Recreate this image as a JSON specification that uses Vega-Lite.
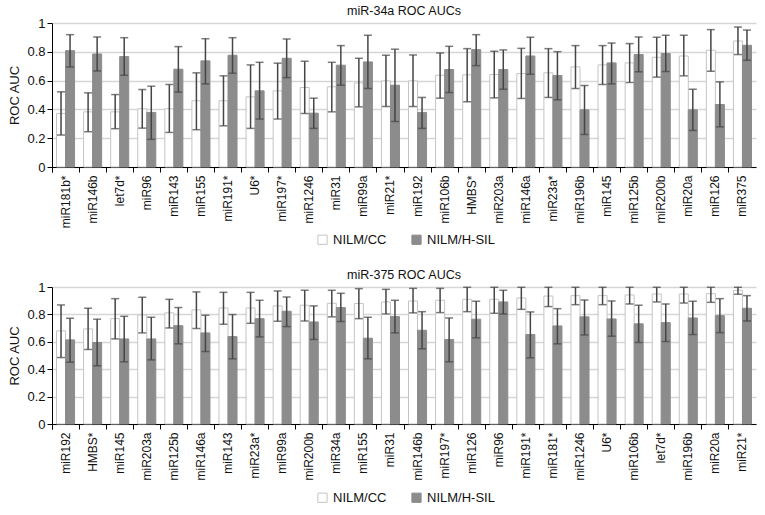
{
  "$schema": "https://vega.github.io/schema/vega-lite/v6.json",
  "padding": {"left": 8, "top": 4, "right": 5, "bottom": 5},
  "background": "white",
  "config": {
    "font": "Liberation Sans",
    "view": {"stroke": null},
    "axis": {"labelFont": "Liberation Sans", "titleFont": "Liberation Sans", "labelColor": "#111", "titleColor": "#111", "titleFontWeight": "normal", "domainColor": "#000", "tickColor": "#000"},
    "axisY": {"values": [0, 0.1, 0.2, 0.3, 0.4, 0.5, 0.6, 0.7, 0.8, 0.9, 1], "format": "~g", "labelFontSize": 13, "titleFontSize": 13, "tickSize": 5, "labelPadding": 2, "titlePadding": 5, "gridColor": "#d6d6d6", "gridWidth": 1.5, "labelOverlap": false},
    "title": {"fontSize": 12.5, "fontWeight": "normal", "color": "#111", "font": "Liberation Sans"},
    "legend": {"labelFontSize": 13, "labelColor": "#111", "symbolSize": 85, "symbolType": "square", "symbolStrokeWidth": 1, "columnPadding": 22, "labelOffset": 4, "padding": 0},
    "concat": {"spacing": 21}
  },
  "datasets": {
    "top": [
      {"g": "miR181b*", "grp": "NILM/CC", "v": 0.372, "lo": 0.222, "hi": 0.522},
      {"g": "miR181b*", "grp": "NILM/H-SIL", "v": 0.808, "lo": 0.695, "hi": 0.919},
      {"g": "miR146b", "grp": "NILM/CC", "v": 0.383, "lo": 0.245, "hi": 0.515},
      {"g": "miR146b", "grp": "NILM/H-SIL", "v": 0.785, "lo": 0.667, "hi": 0.903},
      {"g": "let7d*", "grp": "NILM/CC", "v": 0.383, "lo": 0.266, "hi": 0.503},
      {"g": "let7d*", "grp": "NILM/H-SIL", "v": 0.767, "lo": 0.637, "hi": 0.898},
      {"g": "miR96", "grp": "NILM/CC", "v": 0.404, "lo": 0.270, "hi": 0.538},
      {"g": "miR96", "grp": "NILM/H-SIL", "v": 0.379, "lo": 0.192, "hi": 0.561},
      {"g": "miR143", "grp": "NILM/CC", "v": 0.404, "lo": 0.240, "hi": 0.573},
      {"g": "miR143", "grp": "NILM/H-SIL", "v": 0.679, "lo": 0.520, "hi": 0.836},
      {"g": "miR155", "grp": "NILM/CC", "v": 0.460, "lo": 0.259, "hi": 0.654},
      {"g": "miR155", "grp": "NILM/H-SIL", "v": 0.737, "lo": 0.577, "hi": 0.891},
      {"g": "miR191*", "grp": "NILM/CC", "v": 0.460, "lo": 0.286, "hi": 0.633},
      {"g": "miR191*", "grp": "NILM/H-SIL", "v": 0.776, "lo": 0.651, "hi": 0.898},
      {"g": "U6*", "grp": "NILM/CC", "v": 0.487, "lo": 0.268, "hi": 0.709},
      {"g": "U6*", "grp": "NILM/H-SIL", "v": 0.529, "lo": 0.333, "hi": 0.727},
      {"g": "miR197*", "grp": "NILM/CC", "v": 0.529, "lo": 0.333, "hi": 0.721},
      {"g": "miR197*", "grp": "NILM/H-SIL", "v": 0.755, "lo": 0.621, "hi": 0.889},
      {"g": "miR1246", "grp": "NILM/CC", "v": 0.552, "lo": 0.372, "hi": 0.734},
      {"g": "miR1246", "grp": "NILM/H-SIL", "v": 0.374, "lo": 0.268, "hi": 0.478},
      {"g": "miR31", "grp": "NILM/CC", "v": 0.557, "lo": 0.383, "hi": 0.727},
      {"g": "miR31", "grp": "NILM/H-SIL", "v": 0.707, "lo": 0.568, "hi": 0.843},
      {"g": "miR99a", "grp": "NILM/CC", "v": 0.584, "lo": 0.418, "hi": 0.755},
      {"g": "miR99a", "grp": "NILM/H-SIL", "v": 0.730, "lo": 0.545, "hi": 0.915},
      {"g": "miR21*", "grp": "NILM/CC", "v": 0.598, "lo": 0.420, "hi": 0.776},
      {"g": "miR21*", "grp": "NILM/H-SIL", "v": 0.568, "lo": 0.316, "hi": 0.818},
      {"g": "miR192", "grp": "NILM/CC", "v": 0.598, "lo": 0.420, "hi": 0.778},
      {"g": "miR192", "grp": "NILM/H-SIL", "v": 0.379, "lo": 0.268, "hi": 0.483},
      {"g": "miR106b", "grp": "NILM/CC", "v": 0.637, "lo": 0.478, "hi": 0.792},
      {"g": "miR106b", "grp": "NILM/H-SIL", "v": 0.677, "lo": 0.517, "hi": 0.838},
      {"g": "HMBS*", "grp": "NILM/CC", "v": 0.640, "lo": 0.453, "hi": 0.822},
      {"g": "HMBS*", "grp": "NILM/H-SIL", "v": 0.815, "lo": 0.704, "hi": 0.919},
      {"g": "miR203a", "grp": "NILM/CC", "v": 0.642, "lo": 0.480, "hi": 0.804},
      {"g": "miR203a", "grp": "NILM/H-SIL", "v": 0.677, "lo": 0.540, "hi": 0.813},
      {"g": "miR146a", "grp": "NILM/CC", "v": 0.649, "lo": 0.476, "hi": 0.824},
      {"g": "miR146a", "grp": "NILM/H-SIL", "v": 0.771, "lo": 0.644, "hi": 0.901},
      {"g": "miR23a*", "grp": "NILM/CC", "v": 0.654, "lo": 0.483, "hi": 0.822},
      {"g": "miR23a*", "grp": "NILM/H-SIL", "v": 0.635, "lo": 0.467, "hi": 0.801},
      {"g": "miR196b", "grp": "NILM/CC", "v": 0.695, "lo": 0.545, "hi": 0.843},
      {"g": "miR196b", "grp": "NILM/H-SIL", "v": 0.397, "lo": 0.226, "hi": 0.566},
      {"g": "miR145", "grp": "NILM/CC", "v": 0.709, "lo": 0.573, "hi": 0.843},
      {"g": "miR145", "grp": "NILM/H-SIL", "v": 0.723, "lo": 0.577, "hi": 0.861},
      {"g": "miR125b", "grp": "NILM/CC", "v": 0.723, "lo": 0.587, "hi": 0.857},
      {"g": "miR125b", "grp": "NILM/H-SIL", "v": 0.781, "lo": 0.661, "hi": 0.903},
      {"g": "miR200b", "grp": "NILM/CC", "v": 0.762, "lo": 0.624, "hi": 0.901},
      {"g": "miR200b", "grp": "NILM/H-SIL", "v": 0.788, "lo": 0.663, "hi": 0.915},
      {"g": "miR20a", "grp": "NILM/CC", "v": 0.771, "lo": 0.633, "hi": 0.915},
      {"g": "miR20a", "grp": "NILM/H-SIL", "v": 0.397, "lo": 0.254, "hi": 0.540},
      {"g": "miR126", "grp": "NILM/CC", "v": 0.811, "lo": 0.665, "hi": 0.954},
      {"g": "miR126", "grp": "NILM/H-SIL", "v": 0.434, "lo": 0.279, "hi": 0.591},
      {"g": "miR375", "grp": "NILM/CC", "v": 0.875, "lo": 0.781, "hi": 0.972},
      {"g": "miR375", "grp": "NILM/H-SIL", "v": 0.845, "lo": 0.741, "hi": 0.951}
    ],
    "bottom": [
      {"g": "miR192", "grp": "NILM/CC", "v": 0.680, "lo": 0.485, "hi": 0.869},
      {"g": "miR192", "grp": "NILM/H-SIL", "v": 0.614, "lo": 0.451, "hi": 0.772},
      {"g": "HMBS*", "grp": "NILM/CC", "v": 0.694, "lo": 0.544, "hi": 0.845},
      {"g": "HMBS*", "grp": "NILM/H-SIL", "v": 0.595, "lo": 0.425, "hi": 0.765},
      {"g": "miR145", "grp": "NILM/CC", "v": 0.769, "lo": 0.621, "hi": 0.915},
      {"g": "miR145", "grp": "NILM/H-SIL", "v": 0.621, "lo": 0.454, "hi": 0.786},
      {"g": "miR203a", "grp": "NILM/CC", "v": 0.796, "lo": 0.665, "hi": 0.925},
      {"g": "miR203a", "grp": "NILM/H-SIL", "v": 0.621, "lo": 0.468, "hi": 0.779},
      {"g": "miR125b", "grp": "NILM/CC", "v": 0.811, "lo": 0.701, "hi": 0.910},
      {"g": "miR125b", "grp": "NILM/H-SIL", "v": 0.718, "lo": 0.585, "hi": 0.850},
      {"g": "miR146a", "grp": "NILM/CC", "v": 0.833, "lo": 0.697, "hi": 0.964},
      {"g": "miR146a", "grp": "NILM/H-SIL", "v": 0.665, "lo": 0.529, "hi": 0.794},
      {"g": "miR143", "grp": "NILM/CC", "v": 0.847, "lo": 0.728, "hi": 0.961},
      {"g": "miR143", "grp": "NILM/H-SIL", "v": 0.638, "lo": 0.476, "hi": 0.799},
      {"g": "miR23a*", "grp": "NILM/CC", "v": 0.847, "lo": 0.735, "hi": 0.961},
      {"g": "miR23a*", "grp": "NILM/H-SIL", "v": 0.769, "lo": 0.636, "hi": 0.903},
      {"g": "miR99a", "grp": "NILM/CC", "v": 0.862, "lo": 0.750, "hi": 0.971},
      {"g": "miR99a", "grp": "NILM/H-SIL", "v": 0.823, "lo": 0.711, "hi": 0.927},
      {"g": "miR200b", "grp": "NILM/CC", "v": 0.867, "lo": 0.752, "hi": 0.976},
      {"g": "miR200b", "grp": "NILM/H-SIL", "v": 0.745, "lo": 0.617, "hi": 0.862},
      {"g": "miR34a", "grp": "NILM/CC", "v": 0.881, "lo": 0.782, "hi": 0.976},
      {"g": "miR34a", "grp": "NILM/H-SIL", "v": 0.850, "lo": 0.748, "hi": 0.954},
      {"g": "miR155", "grp": "NILM/CC", "v": 0.879, "lo": 0.769, "hi": 0.988},
      {"g": "miR155", "grp": "NILM/H-SIL", "v": 0.626, "lo": 0.476, "hi": 0.779},
      {"g": "miR31", "grp": "NILM/CC", "v": 0.891, "lo": 0.803, "hi": 0.983},
      {"g": "miR31", "grp": "NILM/H-SIL", "v": 0.784, "lo": 0.665, "hi": 0.903},
      {"g": "miR146b", "grp": "NILM/CC", "v": 0.898, "lo": 0.811, "hi": 0.990},
      {"g": "miR146b", "grp": "NILM/H-SIL", "v": 0.684, "lo": 0.549, "hi": 0.820},
      {"g": "miR197*", "grp": "NILM/CC", "v": 0.903, "lo": 0.813, "hi": 0.990},
      {"g": "miR197*", "grp": "NILM/H-SIL", "v": 0.617, "lo": 0.454, "hi": 0.774},
      {"g": "miR126", "grp": "NILM/CC", "v": 0.910, "lo": 0.820, "hi": 0.998},
      {"g": "miR126", "grp": "NILM/H-SIL", "v": 0.765, "lo": 0.629, "hi": 0.896},
      {"g": "miR96", "grp": "NILM/CC", "v": 0.910, "lo": 0.808, "hi": 0.998},
      {"g": "miR96", "grp": "NILM/H-SIL", "v": 0.891, "lo": 0.803, "hi": 0.976},
      {"g": "miR191*", "grp": "NILM/CC", "v": 0.920, "lo": 0.837, "hi": 0.998},
      {"g": "miR191*", "grp": "NILM/H-SIL", "v": 0.653, "lo": 0.483, "hi": 0.818},
      {"g": "miR181*", "grp": "NILM/CC", "v": 0.934, "lo": 0.857, "hi": 0.998},
      {"g": "miR181*", "grp": "NILM/H-SIL", "v": 0.716, "lo": 0.585, "hi": 0.842},
      {"g": "miR1246", "grp": "NILM/CC", "v": 0.937, "lo": 0.871, "hi": 0.998},
      {"g": "miR1246", "grp": "NILM/H-SIL", "v": 0.782, "lo": 0.650, "hi": 0.905},
      {"g": "U6*", "grp": "NILM/CC", "v": 0.937, "lo": 0.871, "hi": 0.998},
      {"g": "U6*", "grp": "NILM/H-SIL", "v": 0.767, "lo": 0.641, "hi": 0.898},
      {"g": "miR106b", "grp": "NILM/CC", "v": 0.942, "lo": 0.876, "hi": 0.998},
      {"g": "miR106b", "grp": "NILM/H-SIL", "v": 0.731, "lo": 0.595, "hi": 0.867},
      {"g": "let7d*", "grp": "NILM/CC", "v": 0.949, "lo": 0.891, "hi": 0.998},
      {"g": "let7d*", "grp": "NILM/H-SIL", "v": 0.740, "lo": 0.602, "hi": 0.876},
      {"g": "miR196b", "grp": "NILM/CC", "v": 0.949, "lo": 0.883, "hi": 0.998},
      {"g": "miR196b", "grp": "NILM/H-SIL", "v": 0.774, "lo": 0.653, "hi": 0.896},
      {"g": "miR20a", "grp": "NILM/CC", "v": 0.951, "lo": 0.888, "hi": 0.998},
      {"g": "miR20a", "grp": "NILM/H-SIL", "v": 0.791, "lo": 0.667, "hi": 0.915},
      {"g": "miR21*", "grp": "NILM/CC", "v": 0.976, "lo": 0.947, "hi": 0.998},
      {"g": "miR21*", "grp": "NILM/H-SIL", "v": 0.845, "lo": 0.752, "hi": 0.937}
    ]
  },
  "vconcat": [
    {
      "width": 704,
      "height": 144,
      "title": {"text": "miR-34a ROC AUCs", "offset": 0},
      "data": {"name": "top"},
      "encoding": {
        "x": {"field": "g", "type": "nominal", "sort": null, "scale": {"paddingInner": 0, "paddingOuter": 0}, "axis": {"title": null, "labelAngle": -90, "bandPosition": 0, "tickExtra": true, "labelFontSize": 12, "labelPadding": 3, "tickSize": 5, "grid": false}},
        "xOffset": {"field": "grp", "type": "nominal", "sort": null, "scale": {"paddingOuter": 0.5, "paddingInner": 0}}
      },
      "layer": [
        {
          "mark": {"type": "bar", "strokeWidth": 1},
          "encoding": {
            "y": {"field": "v", "type": "quantitative", "title": "ROC AUC", "scale": {"domain": [0, 1], "nice": false}},
            "fill": {"field": "grp", "type": "nominal", "sort": null, "scale": {"domain": ["NILM/CC", "NILM/H-SIL"], "range": ["#ffffff", "#8c8c8c"]}, "legend": {"title": null, "orient": "none", "direction": "horizontal", "legendX": 264, "legendY": 210}},
            "stroke": {"field": "grp", "type": "nominal", "sort": null, "scale": {"domain": ["NILM/CC", "NILM/H-SIL"], "range": ["#c4c4c4", "#8c8c8c"]}, "legend": {"title": null, "orient": "none", "direction": "horizontal", "legendX": 264, "legendY": 210}}
          }
        },
        {
          "mark": {"type": "rule", "color": "#454545", "strokeWidth": 1.5},
          "encoding": {"y": {"field": "lo", "type": "quantitative", "title": "ROC AUC"}, "y2": {"field": "hi"}}
        },
        {
          "mark": {"type": "tick", "color": "#454545", "thickness": 1.5, "size": 8},
          "encoding": {"y": {"field": "lo", "type": "quantitative", "title": "ROC AUC"}}
        },
        {
          "mark": {"type": "tick", "color": "#454545", "thickness": 1.5, "size": 8},
          "encoding": {"y": {"field": "hi", "type": "quantitative", "title": "ROC AUC"}}
        }
      ]
    },
    {
      "width": 704,
      "height": 137,
      "title": {"text": "miR-375 ROC AUCs", "offset": 0},
      "data": {"name": "bottom"},
      "encoding": {
        "x": {"field": "g", "type": "nominal", "sort": null, "scale": {"paddingInner": 0, "paddingOuter": 0}, "axis": {"title": null, "labelAngle": -90, "bandPosition": 0, "tickExtra": true, "labelFontSize": 12, "labelPadding": 3, "tickSize": 5, "grid": false}},
        "xOffset": {"field": "grp", "type": "nominal", "sort": null, "scale": {"paddingOuter": 0.5, "paddingInner": 0}}
      },
      "layer": [
        {
          "mark": {"type": "bar", "strokeWidth": 1},
          "encoding": {
            "y": {"field": "v", "type": "quantitative", "title": "ROC AUC", "scale": {"domain": [0, 1], "nice": false}},
            "fill": {"field": "grp", "type": "nominal", "sort": null, "scale": {"domain": ["NILM/CC", "NILM/H-SIL"], "range": ["#ffffff", "#8c8c8c"]}, "legend": {"title": null, "orient": "none", "direction": "horizontal", "legendX": 264, "legendY": 204}},
            "stroke": {"field": "grp", "type": "nominal", "sort": null, "scale": {"domain": ["NILM/CC", "NILM/H-SIL"], "range": ["#c4c4c4", "#8c8c8c"]}, "legend": {"title": null, "orient": "none", "direction": "horizontal", "legendX": 264, "legendY": 204}}
          }
        },
        {
          "mark": {"type": "rule", "color": "#454545", "strokeWidth": 1.5},
          "encoding": {"y": {"field": "lo", "type": "quantitative", "title": "ROC AUC"}, "y2": {"field": "hi"}}
        },
        {
          "mark": {"type": "tick", "color": "#454545", "thickness": 1.5, "size": 8},
          "encoding": {"y": {"field": "lo", "type": "quantitative", "title": "ROC AUC"}}
        },
        {
          "mark": {"type": "tick", "color": "#454545", "thickness": 1.5, "size": 8},
          "encoding": {"y": {"field": "hi", "type": "quantitative", "title": "ROC AUC"}}
        }
      ]
    }
  ],
  "resolve": {"scale": {"x": "independent", "y": "independent", "xOffset": "independent", "fill": "independent", "stroke": "independent"}, "legend": {"fill": "independent", "stroke": "independent"}}
}
